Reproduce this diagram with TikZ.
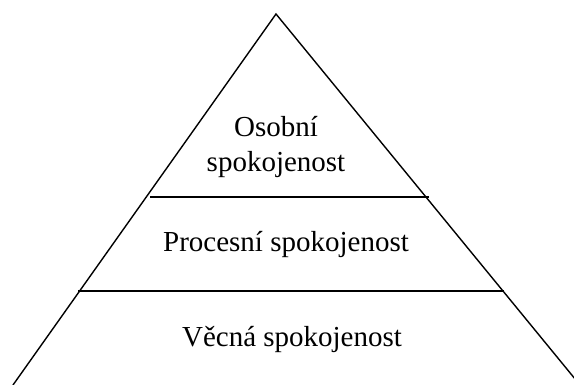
\documentclass[tikz,border=0pt]{standalone}
\usepackage{fontspec}
\setmainfont{Liberation Serif}
\usepackage{tikz}

\begin{document}
\begin{tikzpicture}[x=1pt,y=1pt,yscale=-1,xscale=1]
\tikzset{level/.style={font=\fontsize{29}{35}\selectfont, inner sep=0pt, align=center}}
\clip (0,0) rectangle (574,385);

% Pyramid
\coordinate (apex) at (276,14);
\coordinate (baseL) at (13,385);
\coordinate (baseR) at (580,385);
\draw [line width=1.4pt] (baseL) -- (apex) -- (baseR);

% Dividing lines
\draw [line width=1.4pt] (150,197) -- (429,197);
\draw [line width=1.4pt] (78,291) -- (504,291);

% Text Node
\node (osobni) [level, anchor=base] at (276,172) {Osobní\\spokojenost};
% Text Node
\node (procesni) [level, anchor=base] at (286,252) {Procesní spokojenost};
% Text Node
\node (vecna) [level, anchor=base] at (292,347) {Věcná spokojenost};

\end{tikzpicture}
\end{document}
